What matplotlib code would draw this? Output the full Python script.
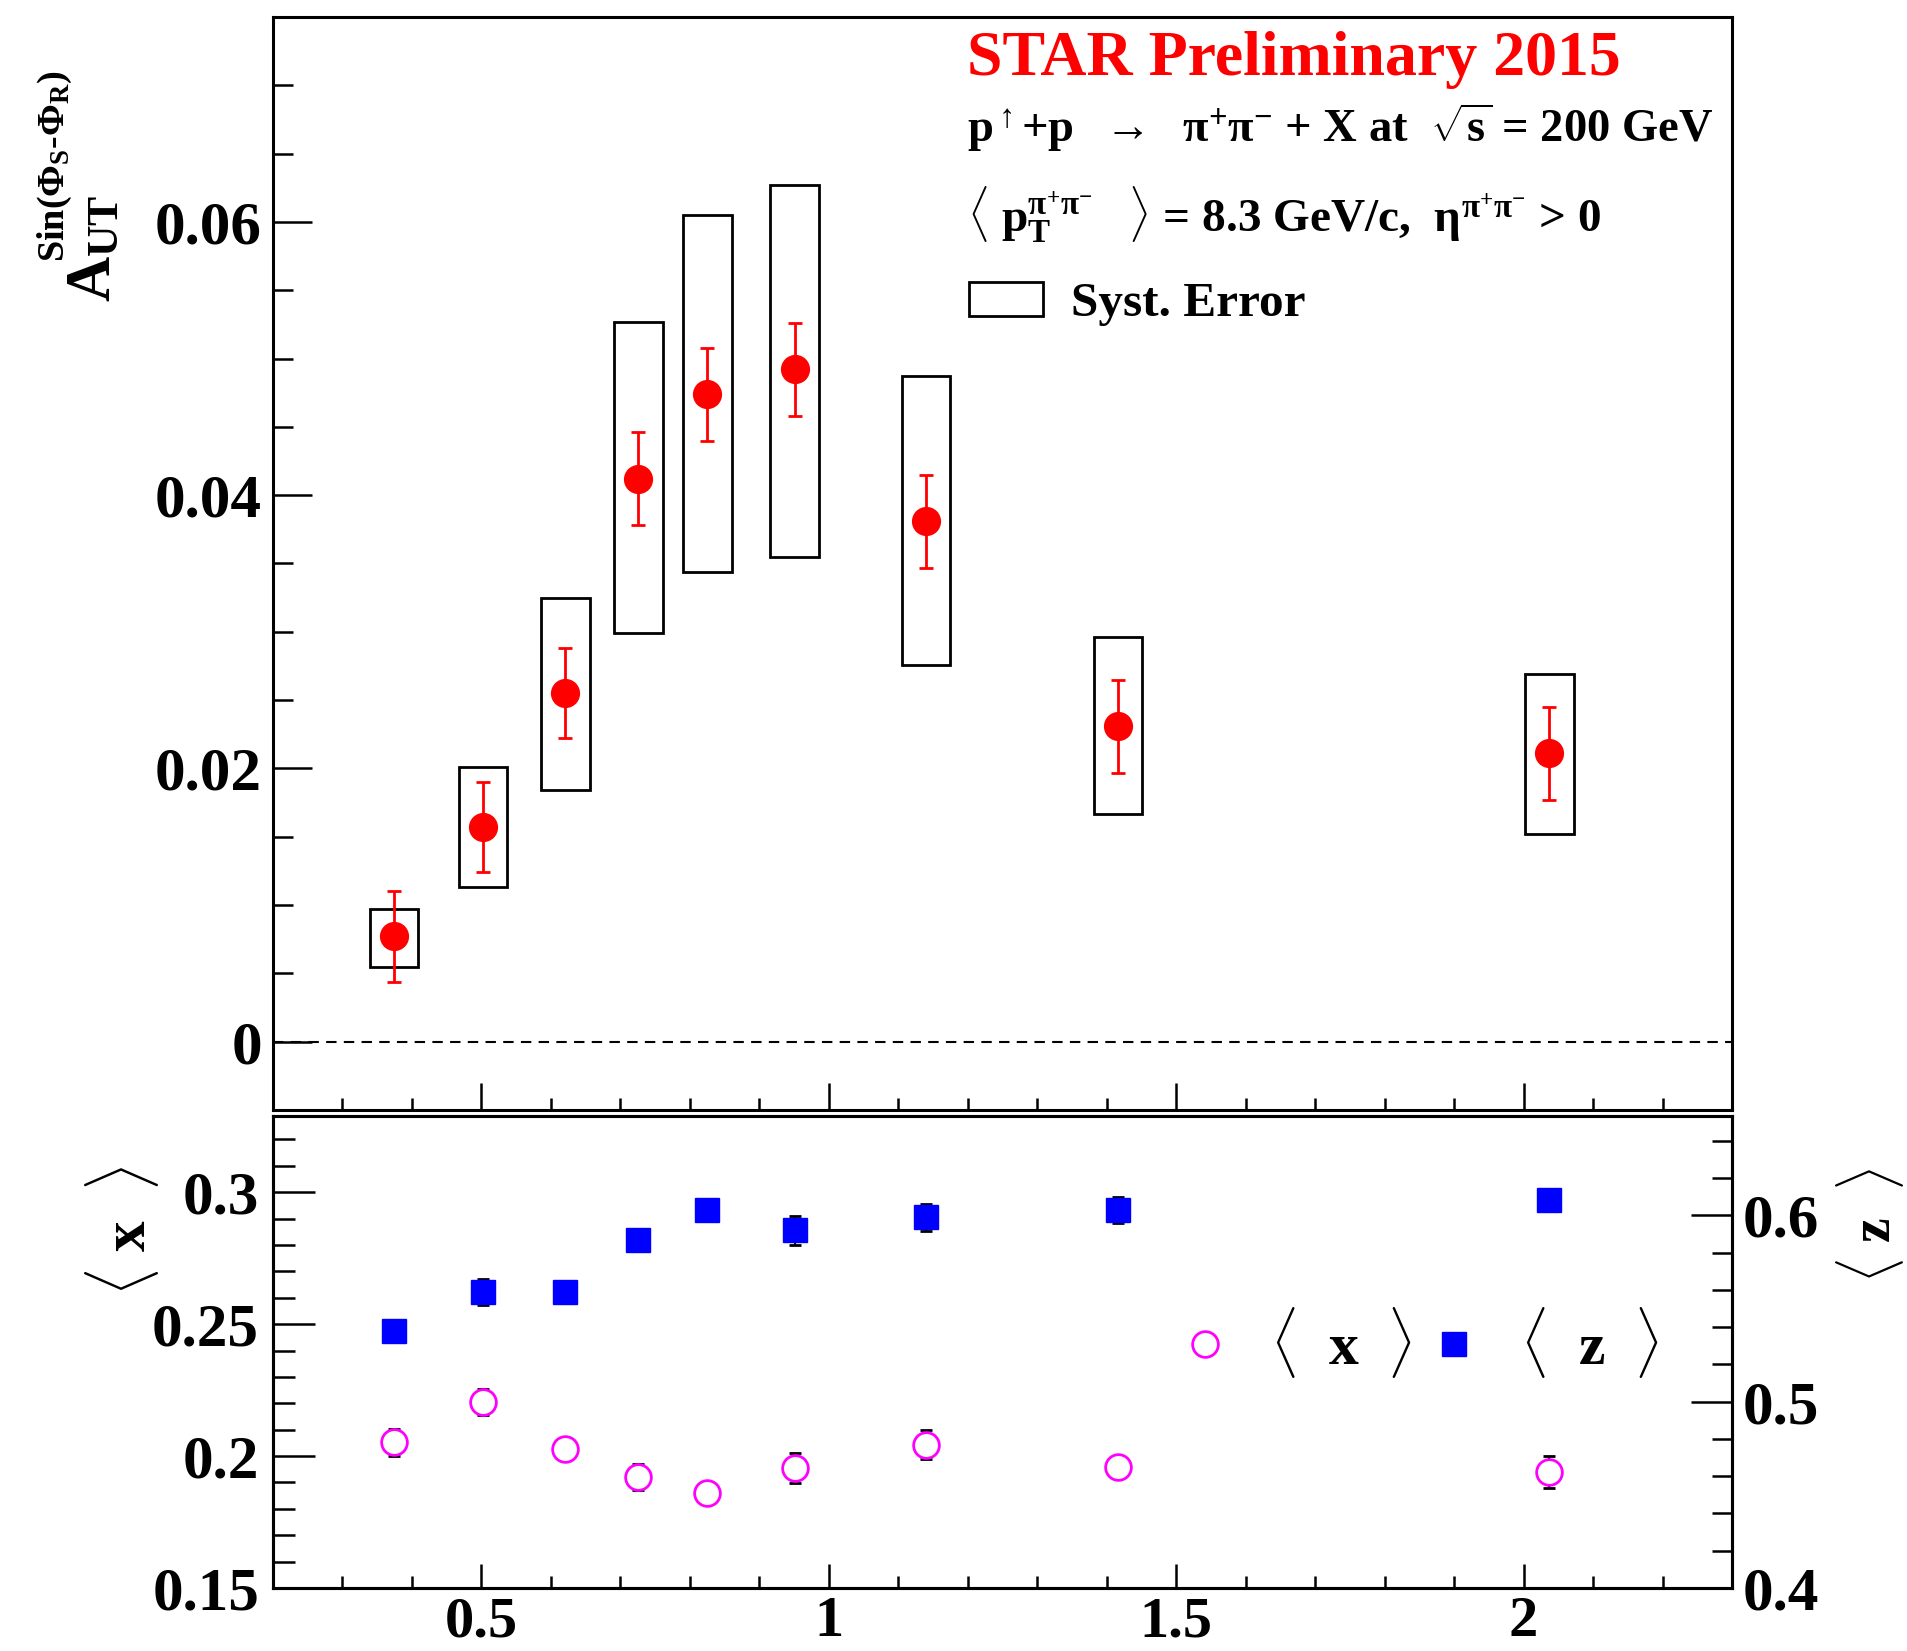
import matplotlib
matplotlib.use("Agg")
import matplotlib.pyplot as plt
from matplotlib.patches import Rectangle
from matplotlib.ticker import MultipleLocator, FuncFormatter
from matplotlib.font_manager import FontProperties

# --- datos (STAR Preliminary 2015) ---
m_pipi = [0.374, 0.502, 0.621, 0.726, 0.825, 0.951, 1.140, 1.416, 2.037]

a_ut = [0.0077, 0.0157, 0.0255, 0.0412, 0.0474, 0.0492, 0.0381, 0.0231, 0.0211]
a_ut_stat = [0.0033, 0.0033, 0.0033, 0.0034, 0.0034, 0.0034, 0.0034, 0.0034, 0.0034]
syst_lo = [0.0055, 0.0113, 0.0184, 0.0299, 0.0344, 0.0355, 0.0276, 0.0167, 0.0152]
syst_hi = [0.0097, 0.0201, 0.0325, 0.0527, 0.0605, 0.0627, 0.0487, 0.0296, 0.0269]

mean_x = [0.2052, 0.2205, 0.2027, 0.1920, 0.1860, 0.1955, 0.2042, 0.1960, 0.1940]
mean_x_err = [0.0050, 0.0050, 0.0030, 0.0050, 0.0030, 0.0057, 0.0055, 0.0030, 0.0062]
mean_z = [0.538, 0.559, 0.559, 0.587, 0.603, 0.592, 0.599, 0.603, 0.6085]
mean_z_err = [0.005, 0.007, 0.005, 0.005, 0.005, 0.0079, 0.0073, 0.0070, 0.005]

SYST_HALF_WIDTH = 0.035

W, H = 1907, 1651

plt.rcParams["font.family"] = ["Liberation Serif", "DejaVu Serif"]
plt.rcParams["font.weight"] = "bold"
plt.rcParams["mathtext.fontset"] = "custom"
plt.rcParams["mathtext.rm"] = "Liberation Serif:bold"
plt.rcParams["mathtext.it"] = "Liberation Serif:bold"
plt.rcParams["mathtext.bf"] = "Liberation Serif:bold"
plt.rcParams["mathtext.sf"] = "Liberation Serif:bold"
plt.rcParams["mathtext.default"] = "rm"
plt.rcParams["axes.linewidth"] = 2.2


def fx(px):
    return px / W


def fy(py):
    return 1 - py / H


def tick_fmt(v, pos):
    return "0" if abs(v) < 1e-9 else f"{v:g}"


fig = plt.figure(figsize=(W / 100, H / 100), dpi=100)
ax_top = fig.add_axes([fx(273), fy(1110), (1732 - 273) / W, (1110 - 17) / H])
ax_low = fig.add_axes([fx(273), fy(1588), (1732 - 273) / W, (1588 - 1116) / H])

# ===== panel superior: A_UT =====
ax_top.set_xlim(0.2, 2.3)
ax_top.set_ylim(-0.005, 0.075)
ax_top.axhline(0, color="black", lw=1.5, ls=(0, (5, 3.5)), zorder=1)

boxes = []
for xi, lo, hi in zip(m_pipi, syst_lo, syst_hi):
    r = Rectangle((xi - SYST_HALF_WIDTH, lo), 2 * SYST_HALF_WIDTH, hi - lo,
                  fill=False, edgecolor="black", lw=2, zorder=2)
    ax_top.add_patch(r)
    boxes.append(r)

ax_top.errorbar(m_pipi, a_ut, yerr=a_ut_stat, fmt="o", color="red", ms=20,
                elinewidth=2, capsize=4.7, capthick=2, zorder=3)

ax_top.xaxis.set_major_locator(MultipleLocator(0.5))
ax_top.xaxis.set_minor_locator(MultipleLocator(0.1))
ax_top.yaxis.set_major_locator(MultipleLocator(0.02))
ax_top.yaxis.set_minor_locator(MultipleLocator(0.005))
ax_top.yaxis.set_major_formatter(FuncFormatter(tick_fmt))
ax_top.tick_params(axis="x", which="both", direction="in", labelbottom=False, width=1.8)
ax_top.tick_params(axis="x", which="major", length=19.5)
ax_top.tick_params(axis="x", which="minor", length=8.6)
ax_top.tick_params(axis="y", which="both", direction="in", width=1.8, labelsize=44, pad=8)
ax_top.tick_params(axis="y", which="major", length=28)
ax_top.tick_params(axis="y", which="minor", length=14.4)

# titulo del eje y: A_UT con el superindice Sin(...) mas pequeno
fig.text(fx(110), fy(302), r"$A_{UT}$", rotation=90, rotation_mode="anchor",
         ha="left", va="baseline", fontsize=45)
fig.text(fx(64), fy(262), r"Sin($\Phi_{S}$-$\Phi_{R}$)", rotation=90,
         rotation_mode="anchor", ha="left", va="baseline", fontsize=27.5)

fig.text(fx(967), fy(60), "STAR Preliminary 2015", color="red", fontsize=46,
         ha="left", va="center")
fig.text(fx(967), fy(128),
         r"$p^{\uparrow}$+p  $\rightarrow$  $\pi^{+}\pi^{-}$ + X at  $\sqrt{s}$ = 200 GeV",
         fontsize=33.5, ha="left", va="center")
fig.text(fx(967), fy(215),
         r"$\langle$ $p_{T}^{\pi^{+}\pi^{-}}$   $\rangle$ = 8.3 GeV/c,  $\eta^{\pi^{+}\pi^{-}}$ > 0",
         fontsize=34, ha="left", va="center")

ax_top.legend(handles=[boxes[0]], labels=["Syst. Error"], loc="center left",
              bbox_to_anchor=(0.477, 0.7374), frameon=False, borderpad=0,
              borderaxespad=0, handlelength=1.5, handleheight=0.7,
              handletextpad=0.58,
              prop=FontProperties(family=["Liberation Serif"], weight="bold", size=35.5))

# ===== panel inferior: <x> y <z> =====
ax_low.set_xlim(0.2, 2.3)
ax_low.set_ylim(0.15, 0.15 + 0.18 * (1588 - 1116) / 475)
eb_x = ax_low.errorbar(m_pipi, mean_x, yerr=mean_x_err, fmt="o", mfc="white",
                       mec="#ff00ff", mew=2, ms=18.5, ecolor="black",
                       elinewidth=1.5, capsize=4.5, capthick=2, zorder=3)

ax_z = ax_low.twinx()
ax_z.set_ylim(0.4, 0.4 + 0.255 * (1588 - 1116) / 475)
eb_z = ax_z.errorbar(m_pipi, mean_z, yerr=mean_z_err, fmt="s", color="blue",
                     ms=17, ecolor="black", elinewidth=1.5, capsize=4.5,
                     capthick=2, zorder=3)

ax_low.xaxis.set_major_locator(MultipleLocator(0.5))
ax_low.xaxis.set_minor_locator(MultipleLocator(0.1))
ax_low.xaxis.set_major_formatter(FuncFormatter(tick_fmt))
ax_low.yaxis.set_major_locator(MultipleLocator(0.05))
ax_low.yaxis.set_minor_locator(MultipleLocator(0.01))
ax_low.yaxis.set_major_formatter(FuncFormatter(tick_fmt))
ax_low.tick_params(axis="x", which="both", direction="in", width=1.8, labelsize=42, pad=6)
ax_low.tick_params(axis="x", which="major", length=17.6)
ax_low.tick_params(axis="x", which="minor", length=8.4)
ax_low.tick_params(axis="y", which="both", direction="in", width=1.8, labelsize=44, pad=10)
ax_low.tick_params(axis="y", which="major", length=30)
ax_low.tick_params(axis="y", which="minor", length=16)

ax_z.yaxis.set_major_locator(MultipleLocator(0.1))
ax_z.yaxis.set_minor_locator(MultipleLocator(0.02))
ax_z.yaxis.set_major_formatter(FuncFormatter(tick_fmt))
ax_z.tick_params(axis="y", which="both", direction="in", width=1.8, labelsize=44, pad=8)
ax_z.tick_params(axis="y", which="major", length=29.5)
ax_z.tick_params(axis="y", which="minor", length=14.4)

fig.text(fx(122), fy(1231), r"$\langle$ x  $\rangle$", rotation=90,
         ha="center", va="center", fontsize=44)
fig.text(fx(1870), fy(1225), r"$\langle$ z  $\rangle$", rotation=90,
         ha="center", va="center", fontsize=40)

ax_z.legend(handles=[eb_x[0], eb_z[0]],
            labels=[r"$\langle$  x  $\rangle$", r"$\langle$  z  $\rangle$"],
            loc="center left", bbox_to_anchor=(0.618, 0.52), ncol=2,
            frameon=False, borderpad=0, borderaxespad=0, handlelength=1.0,
            handletextpad=0.6, columnspacing=0.2,
            prop=FontProperties(family=["Liberation Serif"], weight="bold", size=43))

fig.savefig("out.png", dpi=100)
